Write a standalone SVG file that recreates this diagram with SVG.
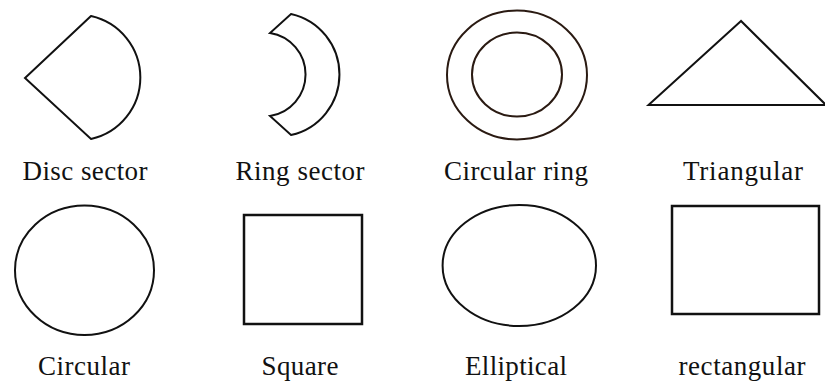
<svg xmlns="http://www.w3.org/2000/svg" width="825" height="381" viewBox="0 0 825 381">
<style>
.s{fill:none;stroke:#111;stroke-width:2;stroke-linejoin:miter}
.r{fill:none;stroke:#111;stroke-width:2.5}
.br{fill:none;stroke:#2a1a12;stroke-width:2}
.t{font-family:"Liberation Serif","Times New Roman",serif;font-size:27px;fill:#111;text-anchor:middle}
</style>
<rect width="825" height="381" fill="#fff"/>
<g id="disc-sector">
<path class="s" d="M91,16 L25,78 L91,139 A63,63 0 0 0 91,16 Z"/>
<text class="t" x="85" y="180" textLength="125">Disc sector</text>
</g>
<g id="ring-sector">
<path class="s" d="M291,14 A62,62 0 0 1 291,135 L270,116 A42,42 0 0 0 270,33 Z"/>
<text class="t" x="300" y="180" textLength="129">Ring sector</text>
</g>
<g id="circular-ring">
<ellipse class="br" cx="517" cy="75" rx="70" ry="64.5"/>
<ellipse class="br" cx="517" cy="74.5" rx="45" ry="42"/>
<text class="t" x="516" y="180" textLength="144">Circular ring</text>
</g>
<g id="triangular">
<path class="s" d="M741,21 L648.5,105 L826,105 Z"/>
<text class="t" x="743" y="180" textLength="120">Triangular</text>
</g>
<g id="circular">
<ellipse class="s" cx="84.5" cy="270.3" rx="69.5" ry="64.7"/>
<text class="t" x="84" y="375" textLength="92">Circular</text>
</g>
<g id="square">
<rect class="r" x="244" y="215" width="118" height="109"/>
<text class="t" x="300" y="375" textLength="77">Square</text>
</g>
<g id="elliptical">
<ellipse class="s" cx="519.3" cy="265.5" rx="76.7" ry="60.5"/>
<text class="t" x="516" y="375" textLength="102">Elliptical</text>
</g>
<g id="rectangular">
<rect class="r" x="672" y="206" width="147" height="108"/>
<text class="t" x="742" y="375" textLength="127">rectangular</text>
</g>
<g id="connectors"></g>
</svg>
